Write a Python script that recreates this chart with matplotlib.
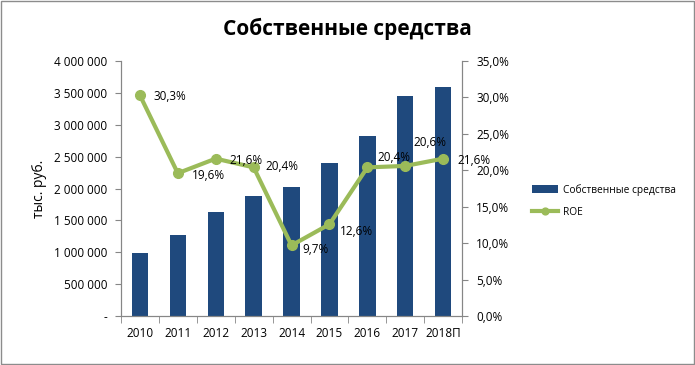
import matplotlib.pyplot as plt
import numpy as np
from matplotlib.patches import Rectangle
from matplotlib.ticker import FuncFormatter, MultipleLocator

plt.rcParams['font.family'] = ['Open Sans', 'DejaVu Sans']

years = ['2010', '2011', '2012', '2013', '2014', '2015', '2016', '2017', '2018П']
equity = [990000, 1270000, 1630000, 1880000, 2020000, 2400000, 2820000, 3450000, 3590000]
roe = [30.3, 19.6, 21.6, 20.4, 9.7, 12.6, 20.4, 20.6, 21.6]

# label offsets in pixels (dx, dy) from each ROE point
lab_off = [(14, -1), (14, -2), (14, -2), (12, 1), (11, -4), (10, -7), (10, 10), (8, 23), (14, -2)]

bar_col = '#1F497D'
line_col = '#9BBB59'
axis_col = '#868686'

fig = plt.figure(figsize=(6.95, 3.65), dpi=100)
ax = fig.add_axes([0.174, 0.134, 0.491, 0.699])
ax2 = ax.twinx()

x = np.arange(len(years))
ax.bar(x, equity, width=0.43, color=bar_col, label='Собственные средства', zorder=2)
ax2.plot(x, roe, color=line_col, lw=3, marker='o', ms=7, label='ROE', zorder=3)

for i, v in enumerate(roe):
    s = ('%.1f%%' % v).replace('.', ',')
    ax2.annotate(s, (x[i], v), xytext=lab_off[i], textcoords='offset pixels',
                 ha='left', va='center', fontsize=8.5)

ax.set_xlim(-0.5, len(years) - 0.5)
ax.set_ylim(0, 4000000)
ax2.set_ylim(0, 35)

ax.yaxis.set_major_locator(MultipleLocator(500000))
ax.yaxis.set_major_formatter(FuncFormatter(
    lambda v, p: '-' if v == 0 else '{:,.0f}'.format(v).replace(',', ' ')))
ax2.yaxis.set_major_locator(MultipleLocator(5))
ax2.yaxis.set_major_formatter(FuncFormatter(lambda v, p: ('%.1f%%' % v).replace('.', ',')))

ax.set_xticks(x)
ax.set_xticklabels(years)
ax.set_xticks(np.arange(-0.5, len(years)), minor=True)
ax.tick_params(axis='x', which='major', length=0, labelsize=8.5, pad=8)
ax.tick_params(axis='x', which='minor', length=5, color=axis_col)
ax.tick_params(axis='y', length=4, color=axis_col, labelsize=8.5, pad=6)
ax2.tick_params(axis='y', length=4, color=axis_col, labelsize=8.5, pad=6)

for a in (ax, ax2):
    a.spines['top'].set_visible(False)
    for s in ('left', 'right', 'bottom'):
        a.spines[s].set_color(axis_col)

ax.set_ylabel('тыс. руб.', fontsize=10, labelpad=5)
fig.text(0.5, 0.92, 'Собственные средства', ha='center', va='center',
         fontsize=15, fontweight='bold')

h1, l1 = ax.get_legend_handles_labels()
h2, l2 = ax2.get_legend_handles_labels()
fig.legend(h1 + h2, l1 + l2, loc='center left', bbox_to_anchor=(0.752, 0.45),
           frameon=False, fontsize=7.3, handlelength=2.6, handletextpad=0.5,
           labelspacing=1.1, markerscale=0.7)

fig.patches.append(Rectangle((0.001, 0.002), 0.997, 0.995, transform=fig.transFigure,
                             fill=False, edgecolor='#8c8c8c', lw=1))

fig.savefig('out.png', dpi=100)
